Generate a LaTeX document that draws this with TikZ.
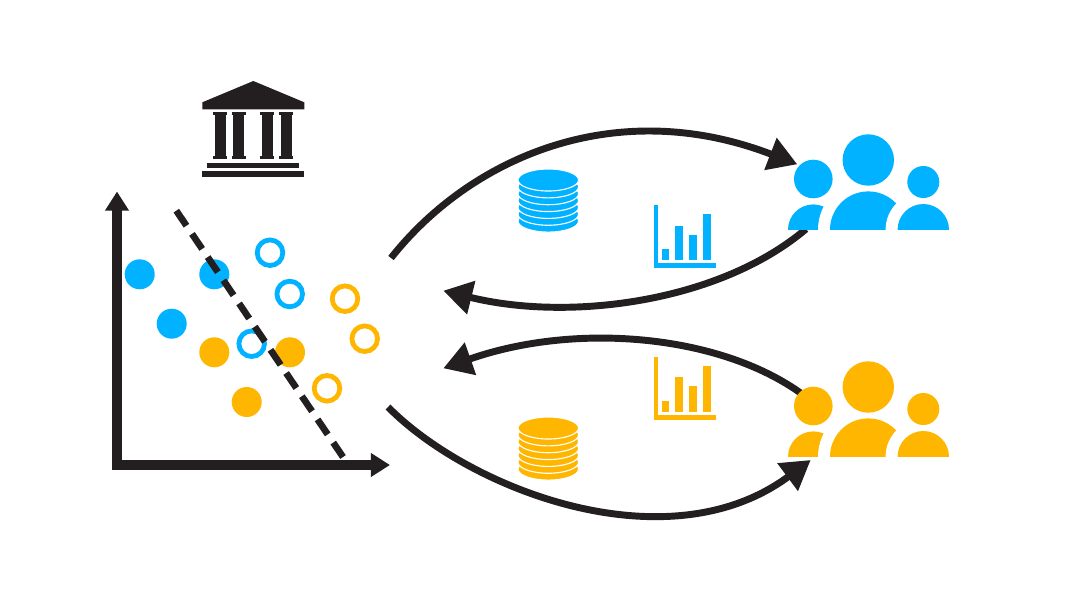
\documentclass[tikz,border=0pt]{standalone}
\usetikzlibrary{arrows.meta}
\definecolor{ink}{HTML}{231F20}
\definecolor{skyc}{HTML}{00B2FF}
\definecolor{ambc}{HTML}{FFB600}
\tikzset{
  flow/.style={line width=5.2pt,draw=ink,-{Triangle[length=21.6pt,width=24.6pt]}},
  axisline/.style={line width=6.9pt,draw=ink,miter limit=10,{Triangle[length=14.3pt,width=17pt]}-{Triangle[length=14.3pt,width=17pt]}},
  boundary/.style={line width=5pt,draw=ink,dash pattern=on 13.6pt off 7.4pt},
  dot/.style={fill=#1},
  ring/.style={draw=#1,line width=3.6pt,fill=none},
  people/.pic={
    \begin{scope}
      \clip (770,180) rectangle (960,229.7);
      \fill[#1] (813.3,229.7) circle (25.3);
      \fill[white] (868.3,229.7) circle (50.3);
      \fill[#1] (868.3,229.7) circle (38.3);
      \fill[white] (923.3,229.7) circle (37.7);
      \fill[#1] (923.3,229.7) circle (25.7);
    \end{scope}
    \fill[#1] (868.3,160) circle (25.7);
    \fill[#1] (813.3,179) circle (19.3);
    \fill[#1] (923.3,182) circle (16);
  },
  stack/.pic={
    \foreach \k in {6,5,4,3,2,1,0}{
      \fill[#1,draw=white,line width=.85pt] (548.3,{180+6.85*\k}) ellipse [x radius=30.3,y radius=11];
    }
  },
  bars/.pic={
    \fill[#1] (653.7,205) rectangle (657.7,268);
    \fill[#1] (653.7,263.3) rectangle (716.3,268);
    \fill[#1] (661.7,249) rectangle (669,260);
    \fill[#1] (675.3,225.7) rectangle (683,260);
    \fill[#1] (689.3,234.7) rectangle (696.7,260);
    \fill[#1] (703.3,214) rectangle (711,260);
  },
}
\begin{document}
\begin{tikzpicture}[x=.75pt,y=-.75pt]
\useasboundingbox (0,0) rectangle (1066,600);
\fill[white] (0,0) rectangle (1066,600);

% bank
\fill[ink] (253.3,81) -- (304.3,102.3) -- (304.3,109.3) -- (202.3,109.3) -- (202.3,102.3) -- cycle;
\foreach \cx in {220.3,238.7,267.3,286.3}{
  \fill[ink] (\cx-5.4,112) rectangle (\cx+5.4,158.7);
  \fill[ink] (\cx-7,112) rectangle (\cx+7,114.5);
  \fill[ink] (\cx-7,156.2) rectangle (\cx+7,158.7);
}
\fill[ink] (207.3,162.7) rectangle (299,168.3);
\fill[ink] (202.3,171.3) rectangle (304.3,177.3);

% scatter
\coordinate (ytip) at (117,191.5);
\coordinate (origin) at (117,465);
\coordinate (xtip) at (390,465);
\draw[axisline] (ytip) -- (origin) -- (xtip);
\foreach \p in {(139.7,274.3),(214.3,274.3),(171.7,323.7)} \fill[dot=skyc] \p circle (15);
\foreach \p in {(214.3,352.3),(290,352.3),(246.7,402)} \fill[dot=ambc] \p circle (15);
\foreach \p in {(270,252.7),(289.7,294),(251.7,343.7)} \draw[ring=skyc] \p circle (12.8);
\foreach \p in {(345,298.7),(364.7,338.7),(327,388.3)} \draw[ring=ambc] \p circle (12.8);
\coordinate (dashA) at (176.3,210.7);
\coordinate (dashB) at (343,457);
\draw[boundary] (dashA) -- (dashB);

% flows
\coordinate (bankOutUp) at (391,258);
\coordinate (skyIn) at (797.3,164.3);
\coordinate (skyOut) at (806,229);
\coordinate (bankInUp) at (443.3,290.7);
\coordinate (ambOut) at (806,397);
\coordinate (bankInLow) at (443.3,368.3);
\coordinate (bankOutLow) at (388,407);
\coordinate (ambIn) at (810.7,460);
\draw[flow] (bankOutUp) .. controls (470,158) and (615,94) .. (skyIn);
\draw[flow] (skyOut) .. controls (720,302) and (570,322) .. (bankInUp);
\draw[flow] (ambOut) .. controls (725,335) and (578,321) .. (bankInLow);
\draw[flow] (bankOutLow) .. controls (470,490) and (668,566) .. (ambIn);

% icons
\pic (skyTeam) at (0,0) {people=skyc};
\pic (ambTeam) at (0,227) {people=ambc};
\pic (skyStack) at (0,0) {stack=skyc};
\pic (ambStack) at (0,248) {stack=ambc};
\pic (skyBars) at (0,0) {bars=skyc};
\pic (ambBars) at (0,151.7) {bars=ambc};
\end{tikzpicture}
\end{document}
